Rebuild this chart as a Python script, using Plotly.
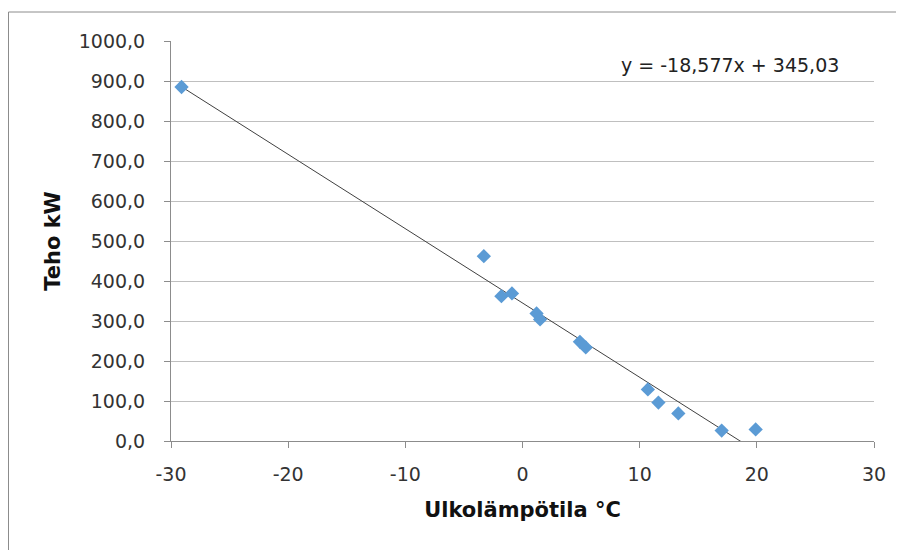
import plotly.graph_objects as go

# Data
temp_c = [-29.1, -3.3, -1.8, -0.9, 1.2, 1.5, 4.9, 5.4, 10.7, 11.6, 13.3, 17.0, 19.9]
power_kw = [885, 462, 362, 369, 319, 304, 248, 234, 129, 96, 69, 26, 29]

slope = -18.577
intercept = 345.03

x_tick_vals = [-30, -20, -10, 0, 10, 20, 30]
x_tick_text = ["-30", "-20", "-10", "0", "10", "20", "30"]
y_tick_vals = [0, 100, 200, 300, 400, 500, 600, 700, 800, 900, 1000]
y_tick_text = ["0,0", "100,0", "200,0", "300,0", "400,0", "500,0", "600,0",
               "700,0", "800,0", "900,0", "1000,0"]

x_title = "Ulkolämpötila °C"
y_title = "Teho kW"
eq_text = "y = -18,577x + 345,03"

# page body has an 8px margin, so figure coordinates = screen coordinates - 8
OFF = 8
W, H = 904, 550
L = 171 - OFF
T = 41 - OFF
R = W - (874 - OFF)
B = H - (441 - OFF)
pw, ph = W - L - R, H - T - B

xmin, xmax = min(temp_c), max(temp_c)
trend_x = [xmin, xmax]
trend_y = [slope * v + intercept for v in trend_x]

fig = go.Figure()
fig.add_trace(go.Scatter(
    x=trend_x, y=trend_y, mode="lines",
    line=dict(color="#404040", width=1), hoverinfo="skip", showlegend=False,
))
fig.add_trace(go.Scatter(
    x=temp_c, y=power_kw, mode="markers",
    marker=dict(symbol="diamond", size=11, color="#5b9bd5"),
    showlegend=False, cliponaxis=False,
))

tick_font = dict(family="DejaVu Sans", size=19, color="#333333")
title_font = dict(family="DejaVu Sans", size=21, color="#111111")

fig.update_layout(
    width=W, height=H,
    margin=dict(l=L, r=R, t=T, b=B, autoexpand=False),
    paper_bgcolor="white", plot_bgcolor="white",
    xaxis=dict(
        range=[-30, 30], tickvals=x_tick_vals, ticktext=x_tick_text,
        showgrid=False, zeroline=False, showline=True, linecolor="#8c8c8c", linewidth=1,
        ticks="outside", ticklen=6, tickcolor="#8c8c8c", tickfont=tick_font,
        ticklabelstandoff=10,
        title=dict(text="<b>" + x_title + "</b>", font=title_font, standoff=18),
        automargin=False,
    ),
    yaxis=dict(
        range=[0, 1000], tickvals=y_tick_vals, ticktext=y_tick_text,
        showgrid=True, gridcolor="#bfbfbf", gridwidth=1,
        zeroline=False, showline=True, linecolor="#8c8c8c", linewidth=1,
        ticks="outside", ticklen=6, tickcolor="#8c8c8c", tickfont=tick_font,
        ticklabelstandoff=15,
        title=dict(text="<b>" + y_title + "</b>", font=title_font, standoff=12),
        automargin=False,
    ),
    annotations=[dict(
        text=eq_text, xref="paper", yref="paper",
        x=(730 - OFF - L) / pw, y=(H - B - (65 - OFF)) / ph,
        xanchor="center", yanchor="middle",
        showarrow=False, font=dict(family="DejaVu Sans", size=19, color="#222222"),
    )],
    shapes=[dict(
        type="path", xref="paper", yref="paper",
        path="M {x0} {y0} L {x0} {y1} L {x2} {y1}".format(
            x0=(0.5 - L) / pw, y0=(H - B - 560) / ph,
            y1=(H - B - (12 - OFF)) / ph, x2=(910 - L) / pw),
        line=dict(color="#8c8c8c", width=1),
    )],
)

fig.write_html("out.html")
